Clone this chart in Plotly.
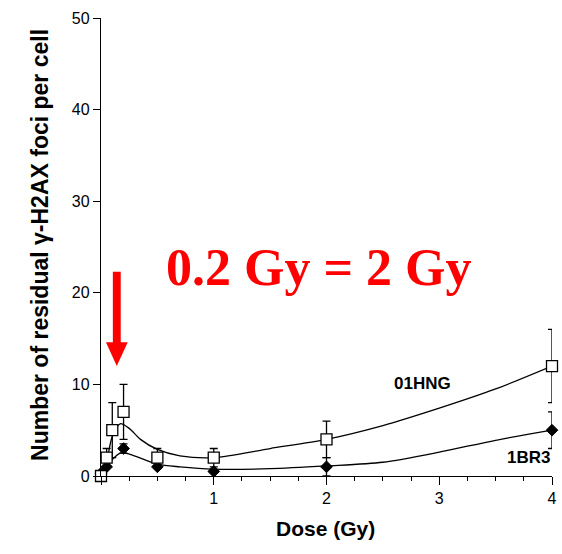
import plotly.graph_objects as go

# Measured residual foci per cell (mean +/- error) at each dose
dose_hng = [0, 0.05, 0.1, 0.2, 0.5, 1, 2, 4]
foci_hng = [0, 2, 5, 7, 2, 2, 4, 12]
err_hng = [0, 1, 3, 3, 1, 1, 2, 4]

dose_br3 = [0, 0.05, 0.2, 0.5, 1, 2, 4]
foci_br3 = [0.3, 1, 3, 1, 0.5, 1, 5]
err_br3 = [0, 0, 0.5, 0, 0, 1, 2]

# Smoothed trend curves through each cell line
fit_x_hng = [0.05, 0.1, 0.17, 0.25, 0.35, 0.5, 0.7, 1, 1.5, 2, 2.5, 3, 3.5, 4]
fit_y_hng = [1.2, 4.3, 5.7, 5.2, 4.0, 2.9, 2.2, 2.0, 3.0, 4.0, 5.5, 7.4, 9.5, 12]
fit_x_br3 = [0.05, 0.1, 0.17, 0.25, 0.5, 0.7, 1, 1.5, 2, 2.5, 3, 3.5, 4]
fit_y_br3 = [1.0, 1.8, 2.5, 2.4, 1.3, 1.0, 0.75, 0.8, 1.1, 1.5, 2.6, 3.9, 5.0]

y_ticks = [0, 10, 20, 30, 40, 50]

SANS = "Liberation Sans, Arial, sans-serif"
SERIF = "Liberation Serif, Times New Roman, serif"

fig = go.Figure()

line_style = dict(color="black", width=1.3, shape="spline", smoothing=0.8)
fig.add_trace(go.Scatter(x=fit_x_hng, y=fit_y_hng, mode="lines", line=line_style,
                         hoverinfo="skip", cliponaxis=False))
fig.add_trace(go.Scatter(x=fit_x_br3, y=fit_y_br3, mode="lines", line=line_style,
                         hoverinfo="skip", cliponaxis=False))

fig.add_trace(go.Scatter(
    x=dose_br3, y=foci_br3, mode="markers", name="1BR3",
    marker=dict(symbol="diamond", size=9, color="black",
                line=dict(color="black", width=1)),
    error_y=dict(type="data", array=err_br3, color="black", thickness=1.3, width=4),
    cliponaxis=False,
))
fig.add_trace(go.Scatter(
    x=dose_hng, y=foci_hng, mode="markers", name="01HNG",
    marker=dict(symbol="square", size=11, color="white",
                line=dict(color="black", width=1.3)),
    error_y=dict(type="data", array=err_hng, color="black", thickness=1.3, width=4),
    cliponaxis=False,
))

# Red arrow pointing at the 0.2 Gy region
fig.add_shape(type="rect", xref="x", yref="y", x0=0.105, x1=0.175, y0=14.4, y1=22.3,
              fillcolor="red", line=dict(width=0))
fig.add_shape(type="path", xref="x", yref="y",
              path="M 0.044 14.6 L 0.237 14.6 L 0.14 12 Z",
              fillcolor="red", line=dict(width=0))

fig.add_annotation(x=1.93, y=22.8, xref="x", yref="y", text="<b>0.2 Gy = 2 Gy</b>",
                   showarrow=False, font=dict(family=SERIF, size=52, color="red"))
fig.add_annotation(x=2.85, y=10.1, xref="x", yref="y", text="<b>01HNG</b>",
                   showarrow=False, font=dict(family=SANS, size=17, color="black"))
fig.add_annotation(x=3.79, y=2.0, xref="x", yref="y", text="<b>1BR3</b>",
                   showarrow=False, font=dict(family=SANS, size=17, color="black"))

# Axis titles
fig.add_annotation(x=-0.169, y=0.504, xref="paper", yref="paper", textangle=-90,
                   text="<b>Number of residual γ-H2AX foci per cell</b>",
                   showarrow=False, font=dict(family=SANS, size=23, color="black"))
fig.add_annotation(x=0.498, y=-0.144, xref="paper", yref="paper",
                   text="<b>Dose (Gy)</b>",
                   showarrow=False, font=dict(family=SANS, size=21, color="black"))

fig.update_xaxes(
    range=[0, 4], tickmode="linear", tick0=0, dtick=1, labelalias={"0": " "},
    ticks="outside", ticklen=8, tickwidth=1.3, tickcolor="black",
    showline=True, linecolor="black", linewidth=1.3, showgrid=False, zeroline=False,
    minor=dict(tickmode="linear", tick0=0, dtick=0.25, ticks="outside",
               ticklen=4, tickwidth=1.3, tickcolor="black", showgrid=False),
    tickfont=dict(family=SANS, size=16, color="black"),
)
fig.update_yaxes(
    range=[0, 50], tickvals=y_ticks,
    ticks="outside", ticklen=7, tickwidth=1.3, tickcolor="black",
    showline=True, linecolor="black", linewidth=1.3, showgrid=False, zeroline=False,
    tickfont=dict(family=SANS, size=16, color="black"),
)

fig.update_layout(
    width=562, height=554,
    margin=dict(l=101, r=5, t=18, b=78),
    paper_bgcolor="white", plot_bgcolor="white",
    showlegend=False,
)

fig.write_html("out.html")
